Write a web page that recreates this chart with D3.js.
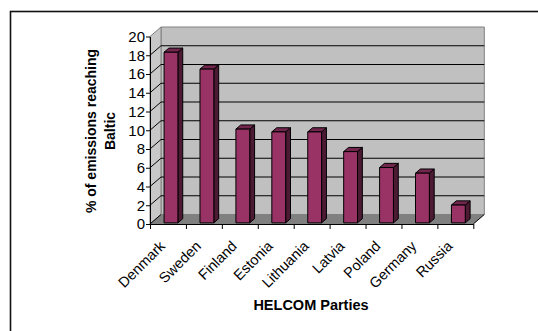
<!DOCTYPE html>
<html>
<head>
<meta charset="utf-8">
<script src="https://cdn.jsdelivr.net/npm/d3@7"></script>
<style>
  html, body { margin: 0; padding: 0; background: #fff; }
  svg { display: block; font-family: "Liberation Sans", Arial, sans-serif; }
</style>
</head>
<body>
<svg id="chart" width="538" height="331"></svg>
<script>
// Share of each party's emissions that is deposited in the Baltic Sea
const categories = ["Denmark", "Sweden", "Finland", "Estonia", "Lithuania", "Latvia", "Poland", "Germany", "Russia"];
const values = [18.2, 16.4, 10.0, 9.7, 9.7, 7.6, 5.9, 5.3, 1.9];
const yTicks = [0, 2, 4, 6, 8, 10, 12, 14, 16, 18, 20];
const yTitleLines = ["% of emissions reaching", "Baltic"];
const xTitle = "HELCOM Parties";

const svg = d3.select("#chart");

// outer chart frame (runs past the right and bottom edges)
svg.append("rect")
  .attr("x", 10.5).attr("y", 11.5)
  .attr("width", 700).attr("height", 500)
  .attr("fill", "none").attr("stroke", "#111").attr("stroke-width", 1.6);

// front plane of the 3-D box
const x0 = 150, x1 = 473.3;
const x = d3.scaleBand().domain(categories).range([x0, x1]);
const xIdx = d3.scaleLinear().domain([0, categories.length]).range([x0, x1]);
const y = d3.scaleLinear().domain([0, 20]).range([224, 36.5]);

// oblique depth offset of the back wall
const DX = 11, DY = 9.5;
const P = (px, v, z) => [px + z * DX, y(v) - z * DY];
const poly = pts => "M" + pts.map(p => p.join(",")).join("L") + "Z";

const box = svg.append("g");

// back wall
box.append("path")
  .attr("d", poly([P(x0, 0, 1), P(x1, 0, 1), P(x1, 20, 1), P(x0, 20, 1)]))
  .attr("fill", "#c0c0c0").attr("stroke", "#808080").attr("stroke-width", 1);

// side wall
box.append("path")
  .attr("d", poly([P(x0, 0, 0), P(x0, 0, 1), P(x0, 20, 1), P(x0, 20, 0)]))
  .attr("fill", "#c8c8c8").attr("stroke", "#808080").attr("stroke-width", 1);

// floor
box.append("path")
  .attr("d", poly([P(x0, 0, 0), P(x1, 0, 0), P(x1, 0, 1), P(x0, 0, 1)]))
  .attr("fill", "#808080");

// gridlines on back wall and side wall
const grid = box.append("g").attr("stroke", "#000").attr("stroke-width", 1).attr("fill", "none");
yTicks.filter(t => t > 0 && t < 20).forEach(t => {
  grid.append("path").attr("d", "M" + P(x0, t, 1).join(",") + "L" + P(x1, t, 1).join(","));
});
yTicks.filter(t => t < 20).forEach(t => {
  grid.append("path").attr("d", "M" + P(x0, t, 0).join(",") + "L" + P(x0, t, 1).join(","));
});
// right edge of the floor
grid.append("path").attr("d", "M" + P(x1, 0, 0).join(",") + "L" + P(x1, 0, 1).join(","));

// 3-D columns
const z0 = 0.12, z1 = 0.56;
const bw = x.bandwidth();
const bars = svg.append("g").attr("stroke", "#000").attr("stroke-width", 1).attr("stroke-linejoin", "round");
categories.forEach((c, i) => {
  const v = values[i];
  const l = x(c) + bw * 0.355, r = l + bw * 0.385;
  // side face
  bars.append("path")
    .attr("d", poly([P(r, 0, z0), P(r, 0, z1), P(r, v, z1), P(r, v, z0)]))
    .attr("fill", "#4d1a33");
  // top face
  bars.append("path")
    .attr("d", poly([P(l, v, z0), P(r, v, z0), P(r, v, z1), P(l, v, z1)]))
    .attr("fill", "#73264d");
  // front face
  bars.append("path")
    .attr("d", poly([P(l, 0, z0), P(r, 0, z0), P(r, v, z0), P(l, v, z0)]))
    .attr("fill", "#993366");
});

// value axis
svg.append("g")
  .attr("transform", `translate(${x0},0)`)
  .call(d3.axisLeft(y).tickValues(yTicks).tickSize(4).tickSizeOuter(0).tickPadding(1))
  .call(g => g.selectAll("text").attr("font-size", 15).attr("fill", "#000")
    .attr("font-family", "'Liberation Sans', Arial, sans-serif"))
  .call(g => g.selectAll("line,path").attr("stroke", "#000"));

// category axis (tick marks between categories)
svg.append("g")
  .attr("transform", `translate(0,${y(0)})`)
  .call(d3.axisBottom(xIdx).tickValues(d3.range(categories.length + 1)).tickFormat("").tickSize(5).tickSizeOuter(0))
  .call(g => g.selectAll("line,path").attr("stroke", "#000"));

// rotated category labels
svg.append("g").selectAll("text")
  .data(categories)
  .join("text")
  .attr("transform", d => `translate(${x(d) + bw / 2 - 2},${y(0) + 23}) rotate(-45)`)
  .attr("text-anchor", "end")
  .attr("font-size", 14.5)
  .attr("fill", "#000")
  .text(d => d);

// axis titles
const yt = svg.append("text")
  .attr("transform", "translate(96,131) rotate(-90)")
  .attr("text-anchor", "middle")
  .attr("font-size", 14).attr("font-weight", "bold").attr("fill", "#000");
yTitleLines.forEach((s, i) => {
  yt.append("tspan").attr("x", 0).attr("dy", i === 0 ? 0 : 19).text(s);
});

svg.append("text")
  .attr("x", 311).attr("y", 310)
  .attr("text-anchor", "middle")
  .attr("font-size", 14.5).attr("font-weight", "bold").attr("fill", "#000")
  .text(xTitle);
</script>
</body>
</html>
